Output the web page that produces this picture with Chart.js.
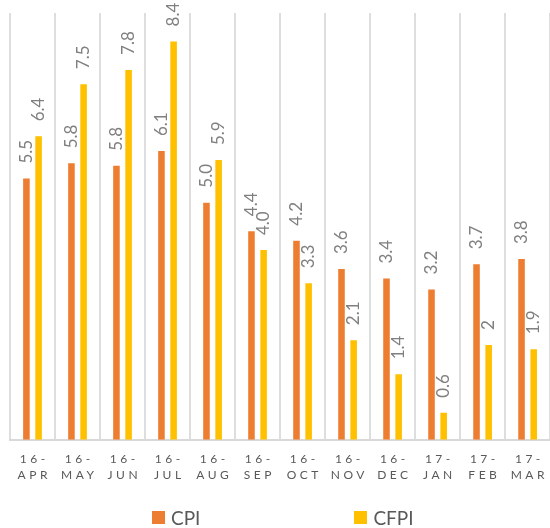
<!DOCTYPE html>
<html>
<head>
<meta charset="utf-8">
<script src="https://cdn.jsdelivr.net/npm/chart.js@4.4.1/dist/chart.umd.min.js"></script>
<style>
  html, body { margin:0; padding:0; background:#fff; overflow:hidden; }
  #wrap { position:relative; width:553px; height:528px; }
  #legend { position:absolute; left:152px; top:508px; display:flex; align-items:center; line-height:19px;
            font-family:Lato, "Open Sans", sans-serif; font-size:19px; color:#595959; }
  #legend .item { display:flex; align-items:center; }
  #legend .item + .item { margin-left:154px; }
  #legend .sw { width:13px; height:13px; margin-right:6px; }
</style>
</head>
<body>
<div id="wrap">
  <canvas id="chart" width="553" height="528"></canvas>
  <div id="legend"></div>
</div>
<script>
// ---------- data ----------
const months = [['16-','APR'],['16-','MAY'],['16-','JUN'],['16-','JUL'],['16-','AUG'],['16-','SEP'],
                ['16-','OCT'],['16-','NOV'],['16-','DEC'],['17-','JAN'],['17-','FEB'],['17-','MAR']];
const cpi  = [5.51, 5.83, 5.78, 6.09, 5.0, 4.4, 4.2, 3.6, 3.4, 3.17, 3.7, 3.81];
const cfpi = [6.4, 7.5, 7.8, 8.4, 5.9, 4.0, 3.3, 2.1, 1.38, 0.57, 2.0, 1.91];
const cpiText  = cpi.map(v => v.toFixed(1));
const cfpiText = ['6.4','7.5','7.8','8.4','5.9','4.0','3.3','2.1','1.4','0.6','2','1.9'];

const FONT = 'Lato, "Open Sans", sans-serif';

// ---------- rotated value labels above the bars ----------
const barLabels = {
  id: 'barLabels',
  afterDatasetsDraw(chart){
    const ctx = chart.ctx;
    const texts = [cpiText, cfpiText];
    chart.data.datasets.forEach((ds, i) => {
      chart.getDatasetMeta(i).data.forEach((bar, j) => {
        ctx.save();
        ctx.translate(bar.x, bar.y - 15);
        ctx.rotate(-Math.PI/2);
        ctx.font = '17px ' + FONT;
        ctx.fillStyle = '#808080';
        ctx.textAlign = 'left';
        ctx.textBaseline = 'middle';
        ctx.fillText(texts[i][j], 0, 0);
        ctx.restore();
      });
    });
  }
};

// ---------- letter-spaced x tick labels ----------
const spacedTicks = {
  id: 'spacedTicks',
  beforeDraw(chart){
    const s = chart.scales.x;
    if(!s || s._spaced) return;
    const orig = s.drawLabels;
    s.drawLabels = function(area){
      const c = this.ctx;
      c.save();
      c.letterSpacing = '3.5px';
      c.translate(1.75, 0);
      orig.call(this, area);
      c.restore();
    };
    s._spaced = true;
  }
};

const chart = new Chart(document.getElementById('chart'), {
  type: 'bar',
  data: {
    labels: months,
    datasets: [
      { label:'CPI',  data:cpi,  backgroundColor:'#ED7D31', categoryPercentage:0.54, barPercentage:0.54 },
      { label:'CFPI', data:cfpi, backgroundColor:'#FFC000', categoryPercentage:0.54, barPercentage:0.54 }
    ]
  },
  options: {
    responsive: false,
    animation: false,
    maintainAspectRatio: false,
    layout: { padding: { top:13, left:10, right:0, bottom:33 } },
    plugins: { legend:{ display:false }, tooltip:{ enabled:false } },
    scales: {
      x: {
        grid: { color:'#dedede', lineWidth:2, drawTicks:false, offset:true },
        border: { color:'#d9d9d9', width:2 },
        ticks: { color:'#595959', padding:12, maxRotation:0, autoSkip:false,
                 font:{ family:FONT, size:12, lineHeight:1.3 } }
      },
      y: { display:false, min:0, max:9 }
    }
  },
  plugins: [barLabels, spacedTicks]
});

// ---------- html legend ----------
const leg = document.getElementById('legend');
chart.data.datasets.forEach(ds => {
  const it = document.createElement('div'); it.className = 'item';
  const sw = document.createElement('span'); sw.className = 'sw'; sw.style.background = ds.backgroundColor;
  const tx = document.createElement('span'); tx.textContent = ds.label;
  it.appendChild(sw); it.appendChild(tx); leg.appendChild(it);
});
</script>
</body>
</html>
